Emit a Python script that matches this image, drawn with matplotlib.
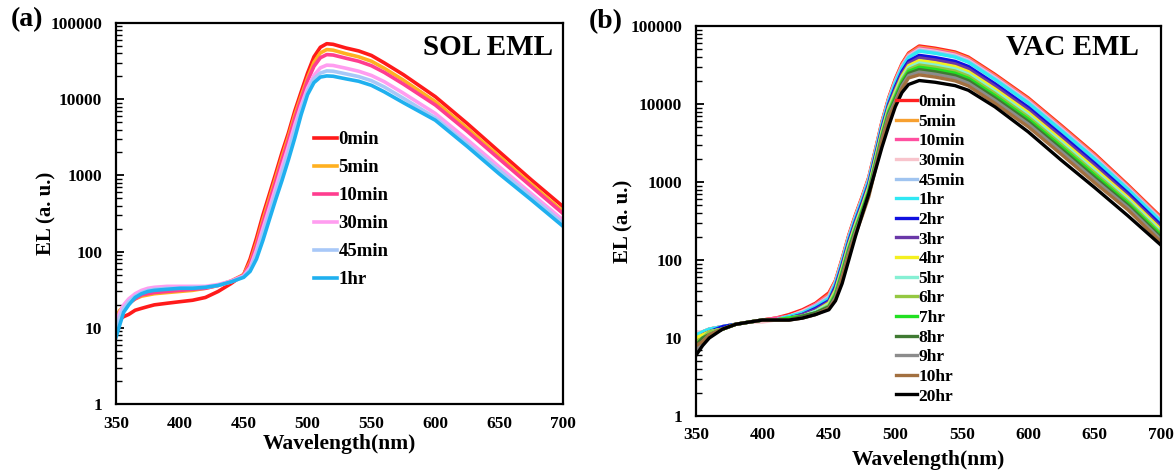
import matplotlib
matplotlib.use('Agg')
import matplotlib.pyplot as plt
from matplotlib.ticker import LogLocator, NullFormatter

plt.rcParams['font.family'] = ['Liberation Serif', 'DejaVu Serif']
plt.rcParams['font.weight'] = 'bold'

# ---------------- data: panel (a) SOL EML ----------------
wl_a = [350, 353, 356, 360, 365, 370, 375, 380, 390, 400, 410, 420, 430, 440, 450, 455, 460,
        465, 470, 475, 480, 485, 490, 495, 500, 505, 510, 515, 520, 530, 540, 550, 560, 575,
        600, 625, 650, 675, 700]
labels_a = ['0min', '5min', '10min', '30min', '45min', '1hr']
colors_a = ['#ff1a1a', '#ffb020', '#ff3d8f', '#ff9df0', '#a8c8f8', '#1fb0ef']
sol_0min = [11, 13, 14, 15, 17, 18, 19, 20, 21, 22, 23, 25, 30, 38, 50, 80, 150, 300, 560, 1050,
            2000, 3600, 7000, 12500, 22000, 36000, 48000, 53500, 52500, 47000, 43000, 37500,
            30000, 21000, 10800, 4800, 2050, 880, 390]
sol_5min = [14, 17, 19, 21, 24, 26, 27, 28, 29, 30, 31, 33, 36, 41, 50, 72, 130, 260, 490, 920,
            1750, 3200, 6200, 11000, 19000, 30500, 40500, 44800, 44000, 39500, 36000, 31500,
            25500, 17800, 9300, 4150, 1780, 770, 335]
sol_10min = [12, 15, 18, 21, 24, 27, 28, 29, 30, 31, 32, 33, 36, 41, 49, 68, 120, 235, 440, 830,
             1580, 2900, 5600, 10000, 17500, 27000, 35000, 38500, 38000, 34500, 31500, 27500,
             22500, 15800, 8400, 3800, 1650, 720, 316]
sol_30min = [12, 16, 20, 24, 28, 31, 33, 34, 35, 35, 35, 35, 37, 41, 48, 62, 105, 200, 370, 690,
             1300, 2400, 4600, 8300, 14000, 20500, 25800, 28000, 27700, 25500, 23300, 20500,
             17000, 12000, 6500, 2950, 1300, 580, 260]
sol_45min = [10, 14, 18, 22, 26, 29, 31, 32, 33, 33, 34, 34, 36, 40, 47, 58, 92, 170, 310, 580,
             1080, 2000, 3900, 7300, 12800, 18500, 22000, 23500, 23300, 21500, 19800, 17500,
             14500, 10300, 5700, 2600, 1170, 530, 235]
sol_1hr = [7.5, 11, 16, 20, 25, 28, 30, 31, 32, 33, 33, 34, 36, 40, 46, 55, 80, 140, 260, 480,
           860, 1600, 3100, 6300, 11500, 16500, 19500, 20200, 20000, 18500, 17200, 15200,
           12500, 9000, 5300, 2400, 1050, 480, 215]
series_a = [sol_0min, sol_5min, sol_10min, sol_30min, sol_45min, sol_1hr]

# ---------------- data: panel (b) VAC EML ----------------
wl_b = [350, 355, 360, 370, 380, 390, 400, 410, 420, 430, 440, 450, 455, 460, 465, 470, 475,
        480, 485, 490, 495, 500, 505, 510, 518, 530, 545, 555, 575, 600, 625, 650, 675, 700]
labels_b = ['0min', '5min', '10min', '30min', '45min', '1hr', '2hr', '3hr', '4hr', '5hr',
            '6hr', '7hr', '8hr', '9hr', '10hr', '20hr']
colors_b = ['#ff2020', '#f7a030', '#ff4fa0', '#f8c4cc', '#a0c4f0', '#30e8f4', '#1010e0',
            '#6a38a8', '#f4f020', '#86f0d4', '#94c842', '#22e022', '#3f7a32', '#8c8c8c',
            '#a27040', '#000000']
vac_0min = [11, 12, 13, 14, 15, 16, 17, 18, 20, 23, 28, 38, 55, 105, 210, 380, 650, 1150, 2600,
            6000, 12000, 21000, 33000, 45000, 55500, 52000, 46500, 40000, 24000, 12000, 5300,
            2300, 920, 355]
vac_5min = [11, 12, 13, 14, 15, 16, 17, 18, 19, 22, 27, 36, 54, 102, 205, 370, 634, 1120, 2535,
            5850, 11700, 20350, 31980, 43600, 53500, 50130, 44830, 38560, 23140, 11570, 5110,
            2217, 891, 344]
vac_10min = [10, 11, 13, 14, 15, 16, 17, 18, 19, 22, 27, 35, 53, 100, 201, 364, 622, 1100, 2490,
             5740, 11480, 19870, 31220, 42570, 52060, 48780, 43620, 37520, 22510, 11260, 4970,
             2157, 870, 336]
vac_30min = [12, 12, 13, 14, 15, 16, 16, 17, 19, 22, 26, 34, 52, 98, 197, 356, 610, 1079, 2439,
             5628, 11260, 19360, 30430, 41490, 50500, 47320, 42320, 36400, 21840, 10920, 4823,
             2093, 848, 327]
vac_45min = [10, 12, 13, 14, 15, 16, 17, 17, 19, 21, 26, 33, 50, 96, 193, 349, 597, 1057, 2389,
             5514, 11030, 18880, 29670, 40460, 49060, 45970, 41110, 35360, 21220, 10610, 4685,
             2033, 827, 319]
vac_1hr = [11, 12, 13, 14, 15, 16, 17, 17, 19, 21, 25, 32, 50, 95, 189, 342, 586, 1036, 2343,
           5406, 10810, 18400, 28910, 39420, 47620, 44620, 39900, 34320, 20590, 10300, 4547,
           1973, 806, 311]
vac_2hr = [9, 11, 12, 14, 15, 16, 17, 17, 18, 20, 24, 30, 46, 87, 174, 315, 538, 952, 2153,
           4968, 9936, 16550, 26000, 35460, 42070, 39420, 35250, 30320, 18190, 9096, 4017,
           1743, 725, 280]
vac_3hr = [9, 11, 12, 13, 15, 16, 17, 17, 18, 20, 23, 29, 43, 83, 165, 299, 512, 906, 2049,
           4728, 9456, 15520, 24390, 33260, 39130, 36660, 32780, 28200, 16920, 8460, 3737,
           1622, 680, 262]
vac_4hr = [10, 11, 12, 13, 15, 16, 17, 17, 18, 19, 22, 28, 41, 78, 157, 283, 485, 858, 1940,
           4476, 8952, 14490, 22770, 31050, 36080, 33800, 30230, 26000, 15600, 7800, 3445,
           1495, 635, 245]
vac_5hr = [8, 10, 12, 13, 15, 16, 17, 17, 18, 19, 22, 27, 39, 75, 149, 270, 462, 818, 1849,
           4266, 8532, 13630, 21420, 29210, 33630, 31510, 28180, 24240, 14540, 7272, 3212,
           1394, 597, 230]
vac_6hr = [9, 10, 12, 13, 15, 16, 17, 17, 18, 19, 21, 26, 38, 72, 143, 259, 443, 783, 1771,
           4086, 8172, 12920, 20300, 27680, 31640, 29640, 26510, 22800, 13680, 6840, 3021,
           1311, 566, 218]
vac_7hr = [8, 10, 11, 13, 15, 16, 17, 17, 18, 19, 21, 25, 36, 69, 137, 248, 424, 750, 1695,
           3912, 7824, 12220, 19210, 26190, 29640, 27770, 24830, 21360, 12820, 6408, 2830,
           1228, 535, 207]
vac_8hr = [8, 10, 11, 13, 15, 16, 17, 17, 17, 19, 21, 25, 34, 65, 131, 236, 404, 715, 1617,
           3732, 7464, 11510, 18080, 24660, 27640, 25900, 23160, 19920, 11950, 5976, 2639,
           1145, 504, 195]
vac_9hr = [7, 9, 11, 13, 15, 16, 17, 17, 17, 18, 20, 24, 33, 62, 124, 225, 384, 680, 1537,
           3546, 7092, 10790, 16960, 23130, 25700, 24080, 21530, 18520, 11110, 5556, 2454,
           1065, 473, 182]
vac_10hr = [8, 9, 11, 13, 15, 16, 17, 17, 17, 18, 20, 24, 31, 59, 117, 212, 363, 643, 1453,
            3354, 6708, 10060, 15810, 21560, 23640, 22150, 19810, 17040, 10220, 5112, 2258,
            980, 441, 170]
vac_20hr = [6, 8, 10, 13, 15, 16, 17, 17, 17, 18, 20, 23, 30, 50, 100, 200, 380, 700, 1400,
            2800, 5200, 9200, 14000, 17800, 20000, 19000, 17200, 15000, 9200, 4400, 1900,
            850, 370, 155]
series_b = [vac_0min, vac_5min, vac_10min, vac_30min, vac_45min, vac_1hr, vac_2hr, vac_3hr,
            vac_4hr, vac_5hr, vac_6hr, vac_7hr, vac_8hr, vac_9hr, vac_10hr, vac_20hr]

x_ticks = [350, 400, 450, 500, 550, 600, 650, 700]
y_ticks = [1, 10, 100, 1000, 10000, 100000]
y_ticklabels = ['1', '10', '100', '1000', '10000', '100000']

W, H = 1174, 470
fig = plt.figure(figsize=(W / 100, H / 100), dpi=100)
axa = fig.add_axes([116 / W, 1 - 404 / H, 447 / W, 381 / H])
axb = fig.add_axes([696 / W, 1 - 416 / H, 465 / W, 390 / H])


def style(ax, xpad):
    ax.set_yscale('log')
    ax.set_xlim(350, 700)
    ax.set_ylim(1, 100000)
    ax.set_xticks(x_ticks)
    ax.set_xticklabels([str(v) for v in x_ticks])
    ax.set_yticks(y_ticks)
    ax.set_yticklabels(y_ticklabels)
    ax.yaxis.set_minor_locator(LogLocator(base=10, subs=range(2, 10), numticks=20))
    ax.yaxis.set_minor_formatter(NullFormatter())
    ax.tick_params(axis='y', which='major', direction='in', length=6, width=1.3, pad=10,
                   labelsize=12.5)
    ax.tick_params(axis='y', which='minor', direction='in', length=4, width=1.0)
    ax.tick_params(axis='x', which='both', length=0, pad=xpad, labelsize=12.5)
    for lab in ax.get_xticklabels() + ax.get_yticklabels():
        lab.set_fontweight('bold')
    for sp in ax.spines.values():
        sp.set_linewidth(1.6)


style(axa, 9)
style(axb, 8)

for vals, lab, col in zip(series_a, labels_a, colors_a):
    axa.plot(wl_a, vals, color=col, lw=2.6, label=lab)
for vals, lab, col in zip(series_b, labels_b, colors_b):
    axb.plot(wl_b, vals, color=col, lw=2.4, label=lab)

# axis labels
for ax, ylx, xly in ((axa, -0.134, -0.105), (axb, -0.135, -0.112)):
    ax.set_ylabel('EL (a. u.)', fontsize=15, fontweight='bold')
    ax.yaxis.set_label_coords(ylx, 0.5)
    ax.set_xlabel('Wavelength(nm)', fontsize=15.5, fontweight='bold', va='center')
    ax.xaxis.set_label_coords(0.5, xly)

axa.text(0.977, 0.935, 'SOL EML', transform=axa.transAxes, ha='right', va='center',
         fontsize=21, fontweight='bold')
axb.text(0.953, 0.945, 'VAC EML', transform=axb.transAxes, ha='right', va='center',
         fontsize=21, fontweight='bold')
fig.text(27 / W, 1 - 20 / H, '(a)', ha='center', va='center', fontsize=20, fontweight='bold')
fig.text(606 / W, 1 - 22 / H, '(b)', ha='center', va='center', fontsize=20, fontweight='bold')

leg_a = axa.legend(loc='upper left', bbox_to_anchor=(314 / W, 1 - 131 / H),
                   bbox_transform=fig.transFigure, frameon=False, borderpad=0,
                   borderaxespad=0, handlelength=1.2, handletextpad=0.1, labelspacing=0.58,
                   prop={'weight': 'bold', 'size': 13.5})
leg_b = axb.legend(loc='upper left', bbox_to_anchor=(896 / W, 1 - 94 / H),
                   bbox_transform=fig.transFigure, frameon=False, borderpad=0,
                   borderaxespad=0, handlelength=1.2, handletextpad=0.1, labelspacing=0.2,
                   prop={'weight': 'bold', 'size': 12.5})

fig.savefig('out.png', dpi=100)
